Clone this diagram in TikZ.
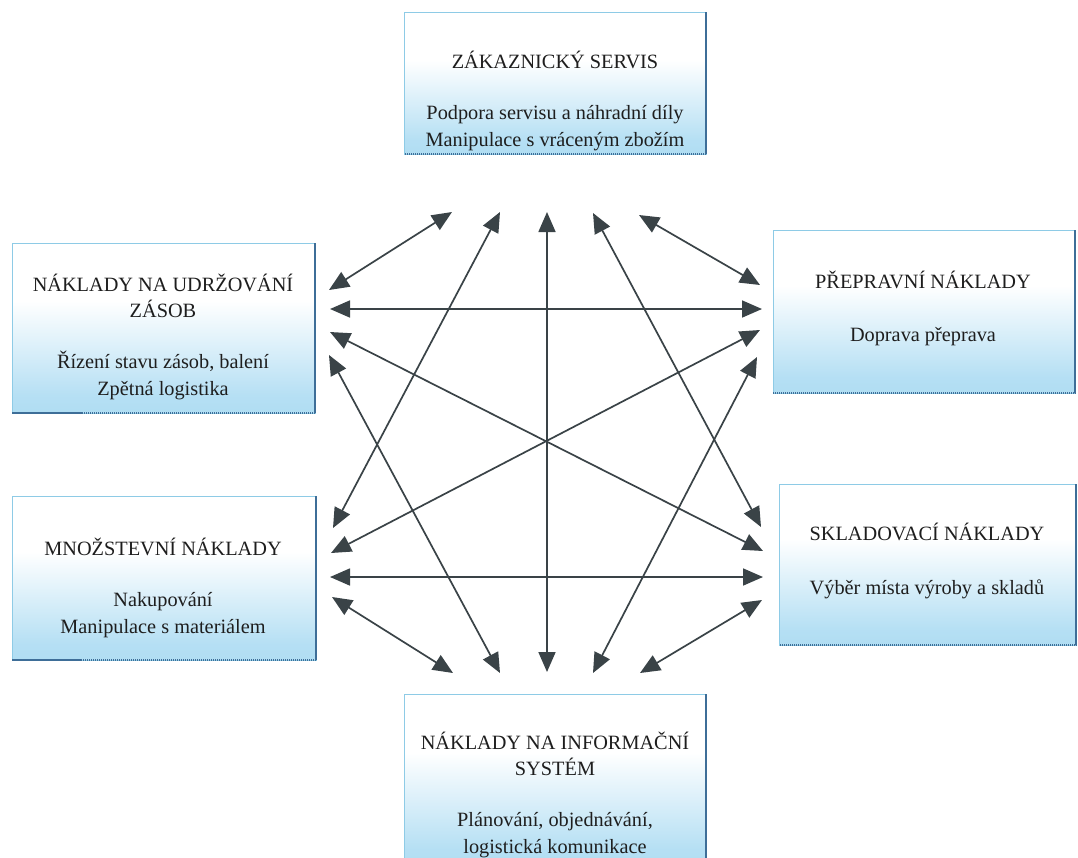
\documentclass[tikz,border=0pt]{standalone}
\usepackage{fontspec}
\setmainfont{Liberation Serif}
\usetikzlibrary{arrows.meta}
\definecolor{skyb}{HTML}{96D2EF}
\definecolor{edgeL}{HTML}{8ECBE6}
\definecolor{edgeD}{HTML}{3E6E98}
\definecolor{arrgray}{HTML}{3A4347}
\definecolor{txtc}{HTML}{1E1E1E}
\pgfdeclareverticalshading{boxshade}{100bp}{color(0bp)=(skyb); color(30bp)=(skyb!70!white); color(58bp)=(white); color(100bp)=(white)}
\tikzset{
  box/.style={draw=edgeL, line width=0.8pt, shading=boxshade, inner sep=0pt, outer sep=0pt, rectangle},
  darkedge/.style={draw=edgeD, line width=1.6pt, dash pattern=on 1.5pt off 0.5pt},
  txt/.style={anchor=base, inner sep=0pt, text=txtc, font=\fontsize{20.3}{24}\selectfont},
  arr/.style={{Triangle[length=20pt,width=17pt]}-{Triangle[length=20pt,width=17pt]}, line width=1.7pt, draw=arrgray, fill=arrgray}
}
\begin{document}
\begin{tikzpicture}[x=1pt,y=-1pt]
\useasboundingbox (0,0) rectangle (1078,857);
\fill[white] (0,0) rectangle (1078,857);
% boxes
\node[box, minimum width=302pt, minimum height=142pt] (T)  at (555,83) {};
\node[box, minimum width=303pt, minimum height=170pt] (LU) at (163.5,328) {};
\node[box, minimum width=302pt, minimum height=163pt] (RU) at (924,311.5) {};
\node[box, minimum width=304pt, minimum height=164pt] (LL) at (164,578) {};
\node[box, minimum width=297pt, minimum height=161pt] (RL) at (927.5,564.5) {};
\node[box, minimum width=302pt, minimum height=172pt] (B)  at (555,780) {};
\foreach \b in {T,LU,RU,LL,RL,B}{
  \draw[darkedge] (\b.north east) -- (\b.south east) -- (\b.south west);
}
% texts
\node[txt] (t1) at (555,68) {ZÁKAZNICKÝ SERVIS};
\node[txt] (t2) at (555,119) {Podpora servisu a náhradní díly};
\node[txt] (t3) at (555,146) {Manipulace s vráceným zbožím};
\node[txt] (lu1) at (163,291) {NÁKLADY NA UDRŽOVÁNÍ};
\node[txt] (lu2) at (163,317) {ZÁSOB};
\node[txt] (lu3) at (163,368) {Řízení stavu zásob, balení};
\node[txt] (lu4) at (163,395) {Zpětná logistika};
\node[txt] (ru1) at (923,288) {PŘEPRAVNÍ NÁKLADY};
\node[txt] (ru2) at (923,341) {Doprava přeprava};
\node[txt] (ll1) at (163,555) {MNOŽSTEVNÍ NÁKLADY};
\node[txt] (ll2) at (163,606) {Nakupování};
\node[txt] (ll3) at (163,633) {Manipulace s materiálem};
\node[txt] (rl1) at (927,540) {SKLADOVACÍ NÁKLADY};
\node[txt] (rl2) at (927,594) {Výběr místa výroby a skladů};
\node[txt] (b1) at (555,749) {NÁKLADY NA INFORMAČNÍ};
\node[txt] (b2) at (555,775) {SYSTÉM};
\node[txt] (b3) at (555,826) {Plánování, objednávání,};
\node[txt] (b4) at (555,853) {logistická komunikace};
% arrow end points
\coordinate (pT1) at (452,212); \coordinate (pT2) at (500,212); \coordinate (pT3) at (547,212);
\coordinate (pT4) at (593,213); \coordinate (pT5) at (639,215);
\coordinate (pLU1) at (329,290); \coordinate (pLU2) at (330,309); \coordinate (pLU3) at (330,332); \coordinate (pLU4) at (329,355);
\coordinate (pRU1) at (760,285); \coordinate (pRU2) at (762,309); \coordinate (pRU3) at (760,330); \coordinate (pRU4) at (757,357);
\coordinate (pLL1) at (333,528); \coordinate (pLL2) at (331,553); \coordinate (pLL3) at (330,577); \coordinate (pLL4) at (332,597);
\coordinate (pRL1) at (761,527); \coordinate (pRL2) at (763,551); \coordinate (pRL3) at (763,577); \coordinate (pRL4) at (762,600);
\coordinate (pB1) at (453,673); \coordinate (pB2) at (500,673); \coordinate (pB3) at (547,672); \coordinate (pB4) at (593,673); \coordinate (pB5) at (640,673);
% connectors
\draw[arr] (pT1) -- (pLU1);
\draw[arr] (pT2) -- (pLL1);
\draw[arr] (pT3) -- (pB3);
\draw[arr] (pT4) -- (pRL1);
\draw[arr] (pT5) -- (pRU1);
\draw[arr] (pLU2) -- (pRU2);
\draw[arr] (pLU3) -- (pRL2);
\draw[arr] (pLU4) -- (pB2);
\draw[arr] (pRU3) -- (pLL2);
\draw[arr] (pRU4) -- (pB4);
\draw[arr] (pLL3) -- (pRL3);
\draw[arr] (pLL4) -- (pB1);
\draw[arr] (pRL4) -- (pB5);
\end{tikzpicture}
\end{document}
